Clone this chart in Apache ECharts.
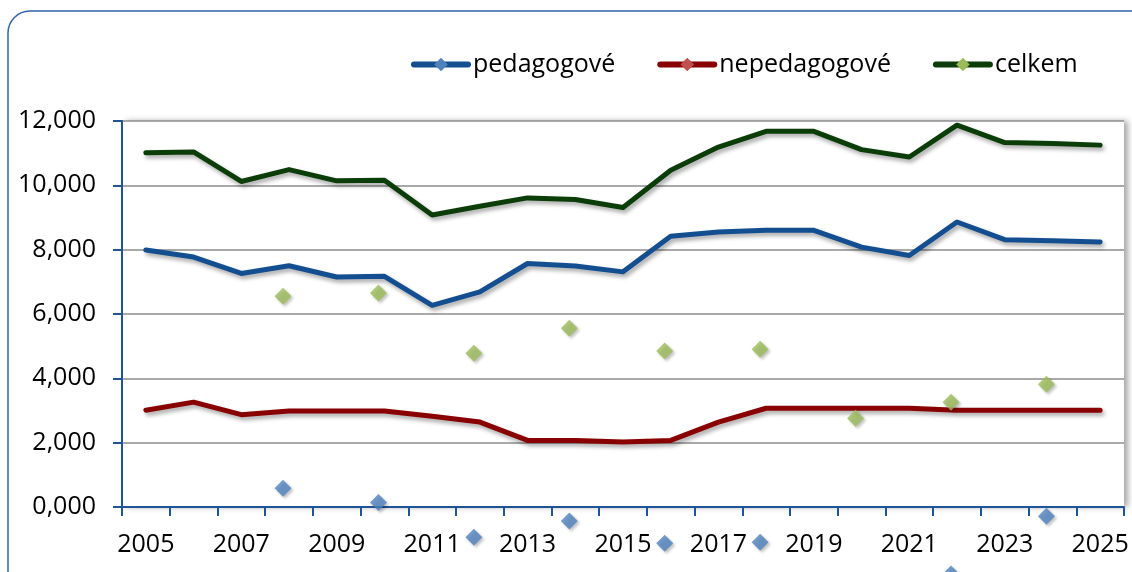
<!DOCTYPE html>
<html><head><meta charset="utf-8">
<script src="https://cdn.jsdelivr.net/npm/echarts@6/dist/echarts.min.js"></script>
<style>html,body{margin:0;padding:0;background:#fff}#c{width:1132px;height:572px}</style>
</head><body><div id="c"></div>
<script>
const years = ['2005','2006','2007','2008','2009','2010','2011','2012','2013','2014','2015','2016','2017','2018','2019','2020','2021','2022','2023','2024','2025'];
const pedagogove = [7990,7770,7260,7500,7150,7170,6270,6690,7570,7490,7310,8420,8550,8600,8600,8080,7820,8860,8310,8280,8240];
const nepedagogove = [3010,3260,2870,2985,2985,2985,2820,2640,2070,2070,2020,2070,2640,3070,3070,3070,3070,3010,3010,3010,3010];
const celkem = [11010,11040,10120,10490,10140,10160,9080,9350,9610,9560,9310,10470,11190,11680,11680,11110,10880,11870,11330,11300,11250];
// stray diamond markers as they appear in the picture
const markerYears = ['2008','2010','2012','2014','2016','2018','2022','2024'];
const pedMarkers = [581,137,-942,-435,-1129,-1098,-2080,-289];
const celkemMarkerYears = ['2008','2010','2012','2014','2016','2018','2020','2022','2024'];
const celkemMarkers = [6551,6653,4778,5556,4850,4903,2758,3255,3815];
const yTickLabels = ['0,000','2,000','4,000','6,000','8,000','10,000','12,000'];

const FONT = 'Open Sans';
const shadow = {shadowColor:'rgba(0,0,0,0.35)',shadowBlur:4,shadowOffsetX:2,shadowOffsetY:3};
const chart = echarts.init(document.getElementById('c'));
function lineSeries(name, data, lineColor, markColor){
  return {name, type:'line', data, showSymbol:false, symbol:'diamond', symbolSize:14,
    lineStyle:Object.assign({color:lineColor,width:5,cap:'round',join:'round'},shadow),
    itemStyle:{color:markColor}, color:lineColor, emphasis:{disabled:true}, z:3};
}
function markerSeries(xs, vals, color){
  return {type:'scatter', data: xs.map((x,i)=>[x, vals[i]]), symbol:'diamond', symbolSize:17,
    symbolOffset:[-6,0], clip:false, itemStyle:Object.assign({color},{shadowColor:'rgba(0,0,0,0.3)',shadowBlur:3,shadowOffsetX:2,shadowOffsetY:2}), z:4, silent:true};
}
chart.setOption({
  animation:false,
  textStyle:{fontFamily:FONT},
  graphic:[{type:'rect',shape:{x:8,y:11,width:1150,height:620,r:22},style:{fill:'none',stroke:'#2f64a8',lineWidth:1.5},z:-1}],
  legend:{
    left:406, top:47, itemWidth:54, itemHeight:17, itemGap:42,
    lineStyle:{width:6, cap:'round'},
    textStyle:{fontFamily:FONT,fontSize:25,color:'#000'},
    data:[
      {name:'pedagogové', itemStyle:{color:'#4f81bd'}, lineStyle:{color:'#134f90',width:6}},
      {name:'nepedagogové', itemStyle:{color:'#c0504d'}, lineStyle:{color:'#880000',width:6}},
      {name:'celkem', itemStyle:{color:'#9bbb59'}, lineStyle:{color:'#0a3d08',width:6}}
    ]
  },
  grid:{left:122,right:8,top:121,bottom:65,show:true,backgroundColor:'#fff',borderWidth:0,
    shadowColor:'rgba(0,0,0,0.35)',shadowBlur:6,shadowOffsetX:4,shadowOffsetY:0},
  xAxis:{type:'category',data:years,boundaryGap:true,
    axisLine:{lineStyle:{color:'#1f5597',width:2}},
    axisTick:{show:true,length:9,inside:false,interval:0,lineStyle:{color:'#1f5597',width:2}},
    axisLabel:{interval:1,margin:25,fontFamily:FONT,fontSize:25,color:'#000'},
    splitLine:{show:false}},
  yAxis:{type:'value',min:0,max:12000,interval:2000,
    axisLine:{show:true,lineStyle:{color:'#1f5597',width:2}},
    axisTick:{show:true,length:9,lineStyle:{color:'#1f5597',width:2}},
    axisLabel:{margin:26,fontFamily:FONT,fontSize:25,color:'#000',
      formatter:(v)=>yTickLabels[Math.round(v/2000)]},
    splitLine:{show:true,lineStyle:{color:'#8c8c8c',width:1.5}}},
  series:[
    lineSeries('pedagogové', pedagogove, '#134f90', '#4f81bd'),
    lineSeries('nepedagogové', nepedagogove, '#880000', '#c0504d'),
    lineSeries('celkem', celkem, '#0a3d08', '#9bbb59'),
    markerSeries(markerYears, pedMarkers, '#4f81bd'),
    markerSeries(celkemMarkerYears, celkemMarkers, '#9bbb59')
  ]
});
</script></body></html>
